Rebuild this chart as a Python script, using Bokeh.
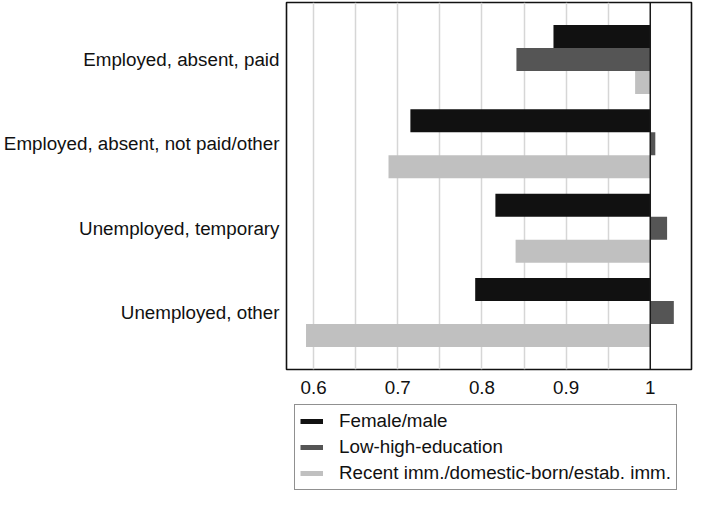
from bokeh.plotting import figure
from bokeh.layouts import column
from bokeh.models import (Range1d, FixedTicker, Span, Legend, LegendItem,
                          ColumnDataSource, NumeralTickFormatter)
from bokeh.transform import dodge
from bokeh.embed import file_html
from bokeh.resources import INLINE

categories = ["Employed, absent, paid",
              "Employed, absent, not paid/other",
              "Unemployed, temporary",
              "Unemployed, other"]
female_male = [0.885, 0.715, 0.816, 0.792]
low_high_education = [0.841, 1.006, 1.020, 1.028]
recent_imm = [0.982, 0.689, 0.840, 0.591]
series_names = ["Female/male", "Low-high-education",
                "Recent imm./domestic-born/estab. imm."]
x_ticks = [0.6, 0.7, 0.8, 0.9, 1.0]
grid_ticks = [0.6, 0.65, 0.7, 0.75, 0.8, 0.85, 0.9, 0.95]
baseline = 1.0

colors = ["#111111", "#555555", "#c0c0c0"]
FONT = "Liberation Sans"
FS = "18.8px"

ypos = list(range(len(categories)))
src = ColumnDataSource(dict(y=ypos, base=[baseline] * len(categories),
                            fm=female_male, lh=low_high_education, ri=recent_imm))

p = figure(width=693, height=396, output_backend="svg", toolbar_location=None,
           x_range=Range1d(0.5678, 1.049), y_range=Range1d(3.675, -0.675),
           min_border_top=2, min_border_right=2, min_border_left=277,
           min_border_bottom=0)

bh = 0.273
for col, off, c in zip(["fm", "lh", "ri"], [-bh, 0.0, bh], colors):
    p.hbar(y=dodge("y", off), left="base", right=col, height=bh, source=src,
           fill_color=c, line_color=None)

p.add_layout(Span(location=baseline, dimension="height", line_color="#1a1a1a",
                  line_width=1.5))

p.xgrid.ticker = FixedTicker(ticks=grid_ticks)
p.xgrid.grid_line_color = "#d6d6d6"
p.xgrid.grid_line_width = 1.5
p.xgrid.level = "underlay"
p.ygrid.grid_line_color = None

p.xaxis.ticker = FixedTicker(ticks=x_ticks)
p.xaxis.formatter = NumeralTickFormatter(format="0.[0]")
p.yaxis.ticker = FixedTicker(ticks=ypos)
p.yaxis.major_label_overrides = {i: c for i, c in enumerate(categories)}
for ax in (p.xaxis[0], p.yaxis[0]):
    ax.axis_line_color = None
    ax.major_tick_line_color = None
    ax.minor_tick_line_color = None
    ax.major_tick_out = 0
    ax.major_tick_in = 0
    ax.major_label_text_font = FONT
    ax.major_label_text_font_size = FS
    ax.major_label_text_color = "#111111"
p.xaxis.major_label_standoff = 11
p.yaxis.major_label_standoff = 7

p.outline_line_color = "#111111"
p.outline_line_width = 1.6
p.background_fill_color = "white"
p.border_fill_color = "white"

# legend in its own small figure below the chart
q = figure(width=693, height=94, output_backend="svg", toolbar_location=None,
           x_range=Range1d(0, 1), y_range=Range1d(0, 1),
           x_axis_location=None, y_axis_location=None,
           min_border_left=0, min_border_top=0, min_border_right=1,
           min_border_bottom=0)
q.grid.visible = False
q.outline_line_color = None
q.background_fill_color = "white"
q.border_fill_color = "white"

src_leg = ColumnDataSource(dict(x=[float("nan")], y=[float("nan")]))
items = []
for name, c in zip(series_names, colors):
    r = q.line(x="x", y="y", source=src_leg, line_color=c, line_width=5)
    items.append(LegendItem(label=name, renderers=[r]))

legend = Legend(items=items, location="top_left", orientation="vertical",
                label_text_font=FONT, label_text_font_size=FS,
                label_text_color="#111111",
                glyph_width=23, glyph_height=20, label_height=20,
                spacing=4, padding=5, label_standoff=16, margin=8,
                border_line_color="#222222", border_line_width=1.2,
                background_fill_color="white", background_fill_alpha=1.0)
q.add_layout(legend, "center")

layout = column(p, q, spacing=0)
open("out.html", "w").write(file_html(layout, INLINE))
